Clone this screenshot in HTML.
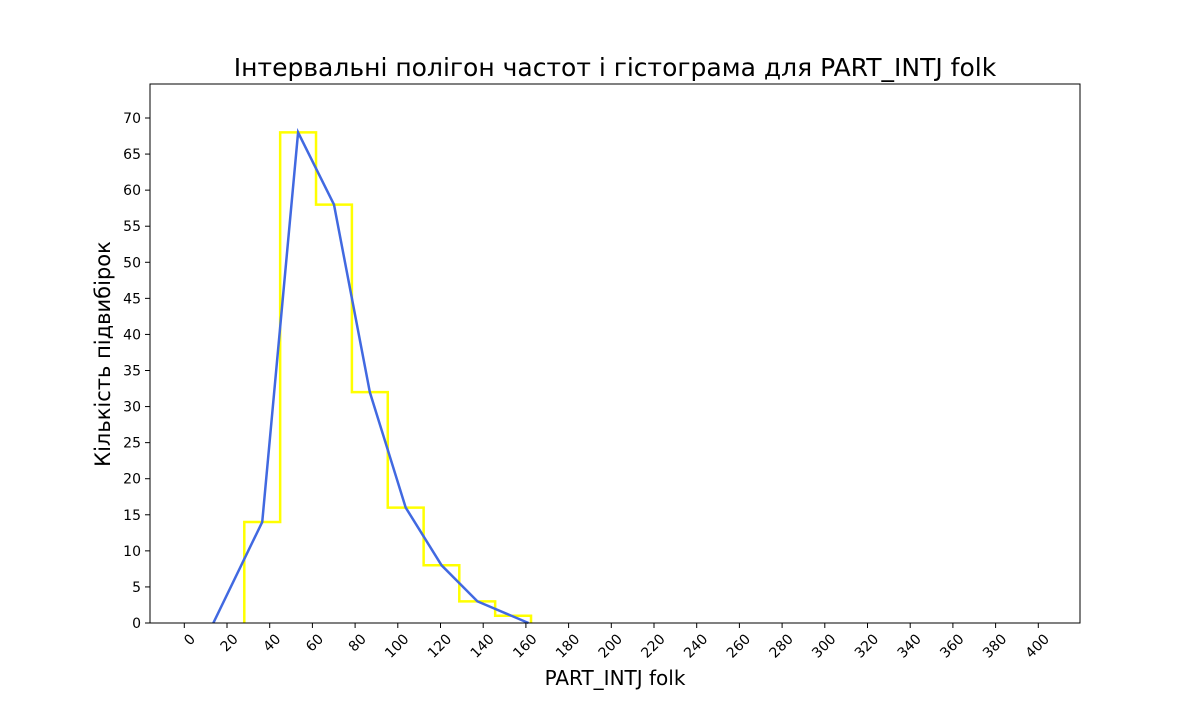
<!DOCTYPE html>
<html><head><meta charset="utf-8"><style>
body{margin:0;background:#fff;font-family:"DejaVu Sans","Liberation Sans",sans-serif}
</style></head><body>
<svg id="c" width="1200" height="700" xmlns="http://www.w3.org/2000/svg" font-family="DejaVu Sans, Liberation Sans, sans-serif">
</svg>
<script>
const histEdges=[28.1,44.9,61.7,78.5,95.3,112.1,128.8,145.6,162.4];
const histCounts=[14,68,58,32,16,8,3,1];
const polyX=[13.6,36.5,53.3,70.1,86.9,103.7,120.5,137.3,161.2];
const polyY=[0,14,68,58,32,16,8,3,0];
const xTicks=[0,20,40,60,80,100,120,140,160,180,200,220,240,260,280,300,320,340,360,380,400];
const yTicks=[0,5,10,15,20,25,30,35,40,45,50,55,60,65,70];
const L=150,R=1080,T=84,B=623;
const X=v=>184.3+v*2.135;
const Y=v=>B-v*(505/70);
const s=document.getElementById('c');
const NS='http://www.w3.org/2000/svg';
function mk(t,a,p){const e=document.createElementNS(NS,t);for(const k in a)e.setAttribute(k,a[k]);(p||s).appendChild(e);return e;}
let d='M'+X(histEdges[0])+','+Y(0);
histCounts.forEach((c,i)=>{d+=' L'+X(histEdges[i])+','+Y(c)+' L'+X(histEdges[i+1])+','+Y(c);});
d+=' L'+X(histEdges[histEdges.length-1])+','+Y(0);
const h=mk('path',{d:d,fill:'none',stroke:'#ffff00','stroke-width':2.5});


const p=mk('polyline',{points:polyX.map((x,i)=>X(x)+','+Y(polyY[i])).join(' '),fill:'none',stroke:'#4169e1','stroke-width':2.5});


const fr=mk('rect',{x:L,y:T,width:R-L,height:B-T,fill:'none',stroke:'#000','stroke-width':1});


xTicks.forEach(v=>{
 mk('line',{x1:X(v),x2:X(v),y1:B,y2:B+5,stroke:'#000'});
 const t=mk('text',{x:X(v)+5,y:B+10,'font-size':14,'text-anchor':'end',transform:`rotate(-45 ${X(v)+5} ${B+10})`,'dominant-baseline':'hanging'});
 t.textContent=v;
 
 
});
yTicks.forEach(v=>{
 mk('line',{x1:L-5,x2:L,y1:Y(v),y2:Y(v),stroke:'#000'});
 const t=mk('text',{x:L-9,y:Y(v)+5,'font-size':14,'text-anchor':'end'});
 t.textContent=v;
 
 
});
const ti=mk('text',{x:615,y:76,'font-size':25,'text-anchor':'middle'});ti.textContent='Інтервальні полігон частот і гістограма для PART_INTJ folk';


const xl=mk('text',{x:615,y:685,'font-size':20,'text-anchor':'middle'});xl.textContent='PART_INTJ folk';


const yl=mk('text',{x:110,y:354,'font-size':21,'text-anchor':'middle',transform:'rotate(-90 110 354)'});yl.textContent='Кількість підвибірок';


</script>
</body></html>
